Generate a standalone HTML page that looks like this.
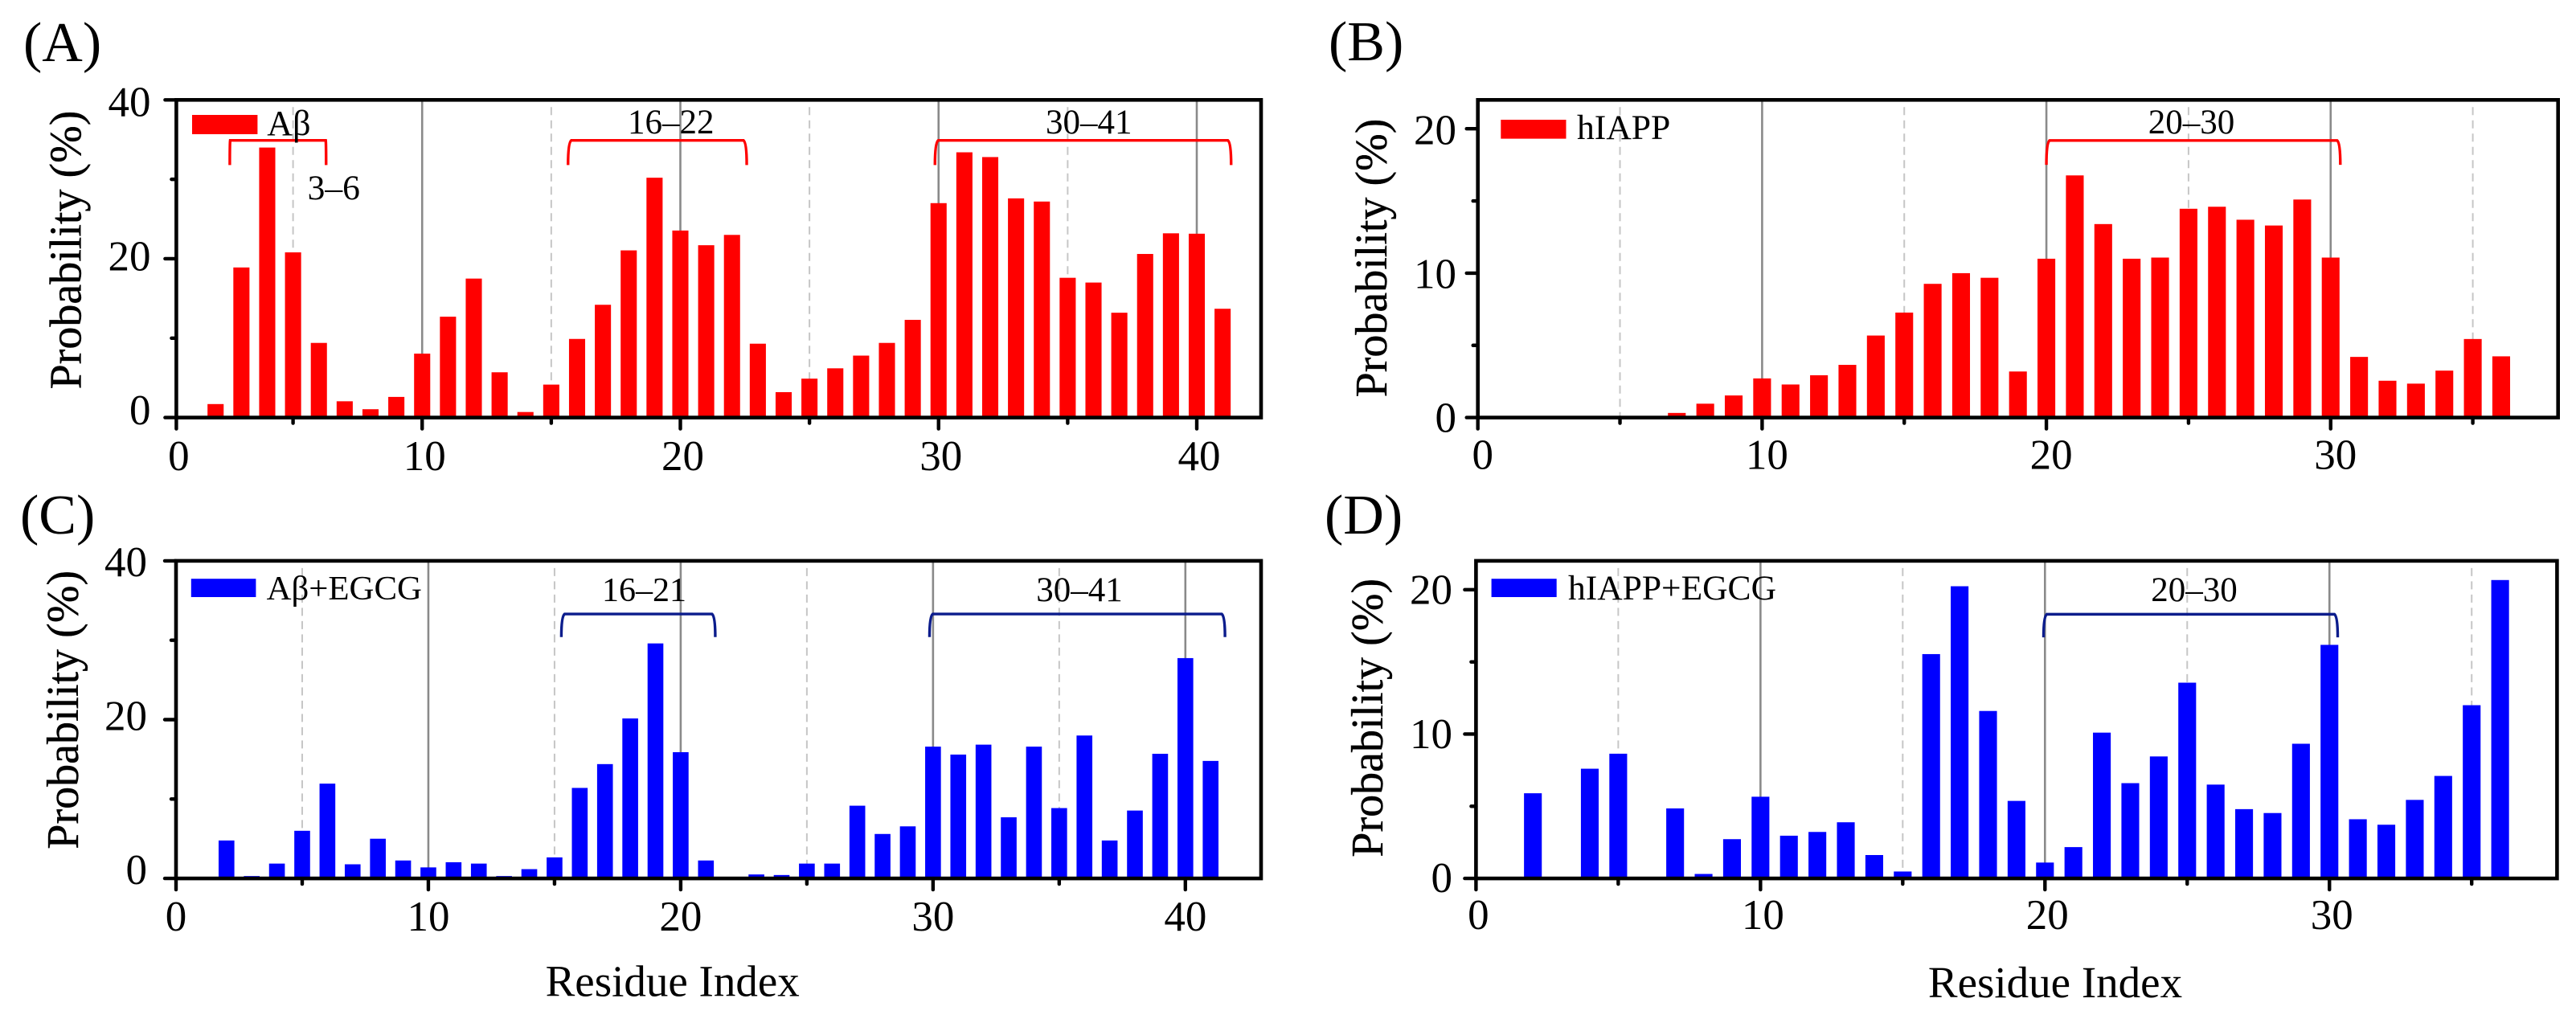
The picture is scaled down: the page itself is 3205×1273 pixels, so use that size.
<!DOCTYPE html>
<html lang="en">
<head>
<meta charset="utf-8">
<title>Residue probability charts</title>
<style>
html,body{margin:0;padding:0;background:#fff;}
svg{display:block;}
text{font-family:"Liberation Serif","DejaVu Serif",serif;fill:#000;}
.axis-title{stroke:#000;stroke-width:0.4;}
</style>
</head>
<body>
<svg id="figure" xmlns="http://www.w3.org/2000/svg" width="3205" height="1273" viewBox="0 0 3205 1273">
<rect width="3205" height="1273" fill="#fff"/>

<g id="panel-a">
  <text x="29" y="76" font-size="70">(A)</text>
  <text class="axis-title" transform="translate(100.5,311) rotate(-90)" text-anchor="middle" font-size="56">Probability (%)</text>
  <rect x="239" y="143" width="81.4" height="24" fill="#ff0000"/>
  <text x="332.3" y="168" font-size="44">Aβ</text>
  <text x="382.6" y="248.2" font-size="43.5">3–6</text>
  <text x="834.8" y="166" text-anchor="middle" font-size="43">16–22</text>
  <text x="1354.8" y="166" text-anchor="middle" font-size="43">30–41</text>
</g>

<g id="panel-b">
  <text x="1653" y="75" font-size="70">(B)</text>
  <text class="axis-title" transform="translate(1725,321) rotate(-90)" text-anchor="middle" font-size="56">Probability (%)</text>
  <rect x="1867.3" y="149" width="81.2" height="23.6" fill="#ff0000"/>
  <text x="1962" y="173.2" font-size="43.6">hIAPP</text>
  <text x="2726.5" y="166" text-anchor="middle" font-size="43">20–30</text>
</g>

<g id="panel-c">
  <text x="25" y="664" font-size="70">(C)</text>
  <text class="axis-title" transform="translate(97,883.3) rotate(-90)" text-anchor="middle" font-size="56">Probability (%)</text>
  <rect x="237.8" y="720.2" width="80.6" height="22.8" fill="#0000ff"/>
  <text x="331.6" y="745.9" font-size="42.8">Aβ+EGCG</text>
  <text x="801.5" y="748" text-anchor="middle" font-size="42">16–21</text>
  <text x="1343" y="748" text-anchor="middle" font-size="43">30–41</text>
  <text x="836.7" y="1239.5" text-anchor="middle" font-size="55">Residue Index</text>
</g>

<g id="panel-d">
  <text x="1648" y="664" font-size="70">(D)</text>
  <text class="axis-title" transform="translate(1720,893.3) rotate(-90)" text-anchor="middle" font-size="56">Probability (%)</text>
  <rect x="1855.6" y="720.2" width="81.1" height="22.8" fill="#0000ff"/>
  <text x="1951" y="745.9" font-size="43.5">hIAPP+EGCG</text>
  <text x="2730" y="748" text-anchor="middle" font-size="43">20–30</text>
  <text x="2557" y="1241" text-anchor="middle" font-size="55">Residue Index</text>
</g>
</svg>

<script>
// Categories (residue index)
const residuesA = [2,3,4,5,6,7,8,9,10,11,12,13,14,15,16,17,18,19,20,21,22,23,24,25,26,27,28,29,30,31,32,33,34,35,36,37,38,39,40,41];
const residuesB = [7,8,9,10,11,12,13,14,15,16,17,18,19,20,21,22,23,24,25,26,27,28,29,30,31,32,33,34,35,36];
const residuesC = [2,3,4,5,6,7,8,9,10,11,12,13,14,15,16,17,18,19,20,21,22,23,24,25,26,27,28,29,30,31,32,33,34,35,36,37,38,39,40,41];
const residuesD = [2,3,4,5,6,7,8,9,10,11,12,13,14,15,16,17,18,19,20,21,22,23,24,25,26,27,28,29,30,31,32,33,34,35,36];

// Series values (probability, %)
const valuesA = [1.7,18.9,34.0,20.8,9.4,2.05,1.05,2.6,8.05,12.7,17.5,5.7,0.7,4.15,9.9,14.2,21.05,30.2,23.55,21.7,23.0,9.3,3.2,4.9,6.2,7.8,9.4,12.3,27.0,33.4,32.8,27.6,27.2,17.6,17.0,13.2,20.6,23.2,23.15,13.7];
const valuesB = [0.32,0.96,1.53,2.71,2.29,2.93,3.65,5.68,7.27,9.26,10.0,9.68,3.19,11.0,16.77,13.4,11.0,11.08,14.46,14.6,13.7,13.3,15.1,11.08,4.2,2.55,2.35,3.25,5.44,4.24];
const valuesC = [4.78,0.3,1.87,6.0,11.94,1.78,5.0,2.26,1.39,2.04,1.87,0.3,1.17,2.65,11.4,14.4,20.15,29.6,15.9,2.26,0,0.5,0.43,1.87,1.87,9.16,5.6,6.56,16.6,15.6,16.85,7.7,16.6,8.86,18.0,4.78,8.55,15.7,27.75,14.8];
const valuesD = [5.9,0,7.6,8.64,0,4.85,0.31,2.72,5.66,2.96,3.22,3.89,1.62,0.48,15.54,20.24,11.6,5.37,1.1,2.17,10.1,6.6,8.45,13.56,6.5,4.8,4.53,9.33,16.18,4.1,3.72,5.44,7.1,12.0,20.67];

// Tick labels
const xMajorTicks = [0,10,20,30,40];
const xMajorTicksShort = [0,10,20,30];
const xMinorTicks = [5,15,25,35];
const yMajorTicksAC = [0,20,40];
const yMinorTicksAC = [10,30];
const yMajorTicksBD = [0,10,20];
const yMinorTicksBD = [5,15];

// Bracket spans (residue from, residue to, optional corner flare)
const bracketsA = [[2.55,6.28,0.5],[15.65,22.57],[29.86,41.33]];
const bracketsB = [[20,30.34]];
const bracketsC = [[15.27,21.37],[29.86,41.57]];
const bracketsD = [[19.95,30.29]];

const SVGNS = 'http://www.w3.org/2000/svg';

function mk(tag, attrs, parent, before) {
  const el = document.createElementNS(SVGNS, tag);
  for (const k in attrs) el.setAttribute(k, attrs[k]);
  if (before) parent.insertBefore(el, before); else parent.appendChild(el);
  return el;
}

function drawPanel(p) {
  const root = document.getElementById('panel-' + p.id);
  const anchor = root.querySelector('rect');
  const xs = v => p.left + (v - p.xLo) * (p.right - p.left) / (p.xHi - p.xLo);
  const ys = v => p.bottom - v * (p.bottom - p.top) / p.yMax;
  const xPos = v => xs(Math.max(v, p.xLo));

  // grid lines
  p.xMajor.forEach(v => {
    if (v === 0) return;
    const el = mk('line', {x1: xs(v), x2: xs(v), y1: p.top, y2: p.bottom, stroke: '#8a8a8a', 'stroke-width': 2.6}, root, anchor);
    
    
  });
  p.xMinor.forEach(v => {
    const el = mk('line', {x1: xs(v), x2: xs(v), y1: p.top + 9, y2: p.bottom, stroke: '#c6c6c6', 'stroke-width': 2, 'stroke-dasharray': '10 6.5'}, root, anchor);
    
    
  });

  // bars
  const step = (p.right - p.left) / (p.xHi - p.xLo);
  const bw = step * 0.625;
  p.residues.forEach((r, i) => {
    const v = p.values[i];
    if (!v) return;
    const el = mk('rect', {x: xs(r) - bw / 2, y: ys(v), width: bw, height: ys(0) - ys(v), fill: p.color}, root, anchor);
    
    
  });

  // frame
  const frame = mk('rect', {x: p.left, y: p.top, width: p.right - p.left, height: p.bottom - p.top, fill: 'none', stroke: '#000', 'stroke-width': 4.6}, root, anchor);
  
  

  // x ticks
  p.xMajor.forEach(v => {
    const x = xPos(v);
    const t = mk('line', {x1: x, x2: x, y1: p.bottom, y2: p.bottom + 14, stroke: '#000', 'stroke-width': 4.4, 'stroke-linecap': 'round'}, root, anchor);
    
    
    const l = mk('text', {x: x + p.xLabelDx, y: p.xLabelY, 'text-anchor': 'middle', 'font-size': 53}, root, anchor);
    
    
    l.textContent = String(v);
  });
  p.xMinor.forEach(v => {
    const x = xPos(v);
    const t = mk('line', {x1: x, x2: x, y1: p.bottom, y2: p.bottom + 7, stroke: '#000', 'stroke-width': 4.4, 'stroke-linecap': 'round'}, root, anchor);
    
    
  });

  // y ticks
  const yTop = p.yMajor[p.yMajor.length - 1];
  p.yMajor.forEach(v => {
    const y = ys(v);
    const t = mk('line', {x1: p.left, x2: p.left - 14, y1: y, y2: y, stroke: '#000', 'stroke-width': 4.4, 'stroke-linecap': 'round'}, root, anchor);
    
    
    const base = p.yLabelBase0 + (p.yLabelBaseTop - p.yLabelBase0) * v / yTop;
    const l = mk('text', {x: p.yLabelRight, y: base, 'text-anchor': 'end', 'font-size': 53}, root, anchor);
    
    
    l.textContent = String(v);
  });
  p.yMinor.forEach(v => {
    const y = ys(v);
    const t = mk('line', {x1: p.left, x2: p.left - 6, y1: y, y2: y, stroke: '#000', 'stroke-width': 4.4, 'stroke-linecap': 'round'}, root, anchor);
    
    
  });

  // brackets
  p.brackets.forEach(b => {
    const x0 = xs(b[0]), x1 = xs(b[1]);
    const f = b[2] === undefined ? 4 : b[2];
    const yt = ys(p.bracketTop), yb = ys(p.bracketBottom);
    const d = 'M' + x0 + ' ' + yb + ' Q' + x0 + ' ' + (yt + 3) + ' ' + (x0 + f) + ' ' + yt +
              ' L' + (x1 - f) + ' ' + yt + ' Q' + x1 + ' ' + (yt + 3) + ' ' + x1 + ' ' + yb;
    const el = mk('path', {d: d, fill: 'none', stroke: p.bracketColor, 'stroke-width': 3.4}, root, anchor);
    
    
  });
}

drawPanel({id: 'a', left: 219.4, right: 1569, top: 124.3, bottom: 519.6, xLo: 0.48, xHi: 42.49, yMax: 40,
  residues: residuesA, values: valuesA, color: '#ff0000', xMajor: xMajorTicks, xMinor: xMinorTicks,
  yMajor: yMajorTicksAC, yMinor: yMinorTicksAC, xLabelDx: 3, xLabelY: 585, yLabelRight: 187.5,
  yLabelBase0: 528, yLabelBaseTop: 144.6, brackets: bracketsA, bracketTop: 34.9, bracketBottom: 31.8, bracketColor: '#ff0000'});

drawPanel({id: 'b', left: 1838.7, right: 3182.7, top: 124.3, bottom: 519.6, xLo: 0, xHi: 38, yMax: 22,
  residues: residuesB, values: valuesB, color: '#ff0000', xMajor: xMajorTicksShort, xMinor: xMinorTicks,
  yMajor: yMajorTicksBD, yMinor: yMinorTicksBD, xLabelDx: 6, xLabelY: 583.5, yLabelRight: 1812,
  yLabelBase0: 537.5, yLabelBaseTop: 179.6, brackets: bracketsB, bracketTop: 19.19, bracketBottom: 17.5, bracketColor: '#ff0000'});

drawPanel({id: 'c', left: 219, right: 1569, top: 697.9, bottom: 1093.1, xLo: 0, xHi: 43, yMax: 40,
  residues: residuesC, values: valuesC, color: '#0000ff', xMajor: xMajorTicks, xMinor: xMinorTicks,
  yMajor: yMajorTicksAC, yMinor: yMinorTicksAC, xLabelDx: 0, xLabelY: 1158, yLabelRight: 183,
  yLabelBase0: 1100, yLabelBaseTop: 717, brackets: bracketsC, bracketTop: 33.3, bracketBottom: 30.4, bracketColor: '#0b1c8c'});

drawPanel({id: 'd', left: 1836.4, right: 3181.4, top: 697.9, bottom: 1093.1, xLo: 0, xHi: 38, yMax: 22,
  residues: residuesD, values: valuesD, color: '#0000ff', xMajor: xMajorTicksShort, xMinor: xMinorTicks,
  yMajor: yMajorTicksBD, yMinor: yMinorTicksBD, xLabelDx: 3, xLabelY: 1156, yLabelRight: 1807,
  yLabelBase0: 1110, yLabelBaseTop: 751.5, brackets: bracketsD, bracketTop: 18.3, bracketBottom: 16.7, bracketColor: '#0b1c8c'});
</script>
</body>
</html>
